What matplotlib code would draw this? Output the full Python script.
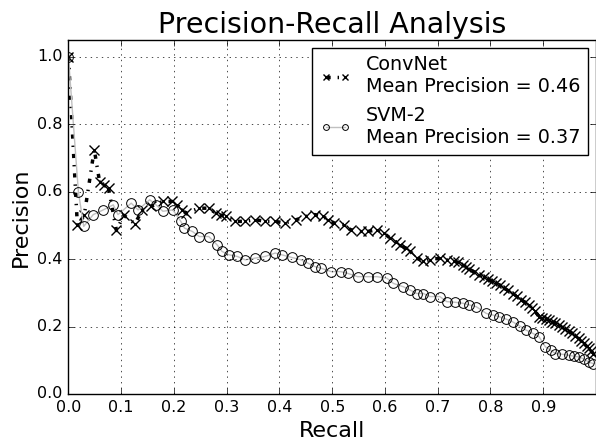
import matplotlib
matplotlib.use('Agg')
import matplotlib.pyplot as plt

# ConvNet precision-recall points
convnet_recall = [0.0, 0.017, 0.03, 0.049, 0.059, 0.068, 0.076, 0.091, 0.105, 0.126,
                  0.14, 0.157, 0.179, 0.197, 0.206, 0.215, 0.223, 0.248, 0.266, 0.279,
                  0.29, 0.298, 0.316, 0.335, 0.354, 0.373, 0.392, 0.41, 0.432, 0.451,
                  0.467, 0.482, 0.492, 0.504, 0.523, 0.535, 0.554, 0.567, 0.585, 0.598,
                  0.61, 0.62, 0.629, 0.64, 0.648, 0.66, 0.673, 0.685, 0.704, 0.717,
                  0.73, 0.738, 0.748, 0.754, 0.76, 0.768, 0.779, 0.787, 0.795, 0.803,
                  0.811, 0.818, 0.825, 0.833, 0.842, 0.85, 0.858, 0.865, 0.873, 0.879,
                  0.885, 0.892, 0.898, 0.905, 0.911, 0.917, 0.923, 0.93, 0.936, 0.942,
                  0.948, 0.955, 0.961, 0.967, 0.972, 0.977, 0.982, 0.986, 0.99, 0.995]
convnet_precision = [1.0, 0.5, 0.53, 0.725, 0.63, 0.62, 0.61, 0.485, 0.53, 0.505,
                     0.545, 0.557, 0.571, 0.571, 0.562, 0.545, 0.537, 0.551, 0.551, 0.537,
                     0.53, 0.527, 0.512, 0.512, 0.517, 0.512, 0.512, 0.507, 0.517, 0.527,
                     0.532, 0.527, 0.517, 0.507, 0.502, 0.487, 0.482, 0.482, 0.487, 0.477,
                     0.462, 0.452, 0.442, 0.432, 0.423, 0.403, 0.393, 0.398, 0.403, 0.398,
                     0.395, 0.39, 0.383, 0.378, 0.372, 0.363, 0.353, 0.347, 0.34, 0.334,
                     0.328, 0.322, 0.315, 0.307, 0.298, 0.29, 0.28, 0.272, 0.264, 0.255,
                     0.245, 0.229, 0.226, 0.222, 0.218, 0.214, 0.21, 0.204, 0.199, 0.194,
                     0.188, 0.18, 0.172, 0.165, 0.158, 0.15, 0.142, 0.135, 0.128, 0.12]

# SVM-2 precision-recall points
svm_recall = [0.0, 0.019, 0.029, 0.047, 0.066, 0.085, 0.094, 0.119, 0.132, 0.154,
              0.166, 0.179, 0.198, 0.213, 0.22, 0.235, 0.248, 0.266, 0.282, 0.291,
              0.304, 0.32, 0.335, 0.354, 0.373, 0.392, 0.404, 0.423, 0.441, 0.454,
              0.467, 0.479, 0.498, 0.516, 0.529, 0.548, 0.567, 0.585, 0.604, 0.616,
              0.635, 0.648, 0.66, 0.673, 0.685, 0.704, 0.717, 0.733, 0.748, 0.76,
              0.773, 0.792, 0.805, 0.817, 0.83, 0.842, 0.855, 0.867, 0.88, 0.892,
              0.904, 0.914, 0.923, 0.935, 0.948, 0.958, 0.967, 0.977, 0.986, 0.995]
svm_precision = [1.0, 0.598, 0.497, 0.532, 0.546, 0.561, 0.532, 0.566, 0.546, 0.576,
                 0.561, 0.542, 0.546, 0.512, 0.492, 0.482, 0.467, 0.467, 0.442, 0.423,
                 0.413, 0.408, 0.398, 0.403, 0.408, 0.418, 0.413, 0.405, 0.398, 0.388,
                 0.378, 0.373, 0.363, 0.363, 0.358, 0.348, 0.348, 0.348, 0.343, 0.328,
                 0.318, 0.308, 0.298, 0.298, 0.289, 0.289, 0.274, 0.272, 0.269, 0.264,
                 0.259, 0.239, 0.234, 0.229, 0.222, 0.214, 0.202, 0.19, 0.18, 0.17,
                 0.14, 0.13, 0.12, 0.118, 0.115, 0.112, 0.11, 0.104, 0.095, 0.09]

convnet_label = 'ConvNet\nMean Precision = 0.46'
svm_label = 'SVM-2\nMean Precision = 0.37'

plt.style.use('classic')
fig = plt.figure(figsize=(5.96, 4.42), dpi=100)
ax = fig.add_axes([0.1148, 0.1086, 0.8852, 0.801])

ax.plot(convnet_recall, convnet_precision, color='black', linestyle='-.', linewidth=2.5,
        marker='x', markersize=7, markeredgewidth=1, label=convnet_label)
ax.plot(svm_recall, svm_precision, color='#c0c0c0', linestyle='-', linewidth=1,
        marker='o', markersize=7, markerfacecolor='none', markeredgecolor='black',
        markeredgewidth=0.7, label=svm_label)

ax.set_xlim(0, 1.0)
ax.set_ylim(0, 1.05)
ax.set_xticks([0.0, 0.1, 0.2, 0.3, 0.4, 0.5, 0.6, 0.7, 0.8, 0.9])
ax.set_yticks([0.0, 0.2, 0.4, 0.6, 0.8, 1.0])
ax.tick_params(labelsize=11.5)
ax.grid(True)

ax.set_title('Precision-Recall Analysis', fontsize=20.5)
ax.set_xlabel('Recall', fontsize=16)
ax.set_ylabel('Precision', fontsize=16)
ax.legend(loc='upper right', fontsize=13.8, numpoints=2, markerscale=0.6,
          handlelength=1.6, borderaxespad=0.4)

fig.savefig('out.png', dpi=100)
